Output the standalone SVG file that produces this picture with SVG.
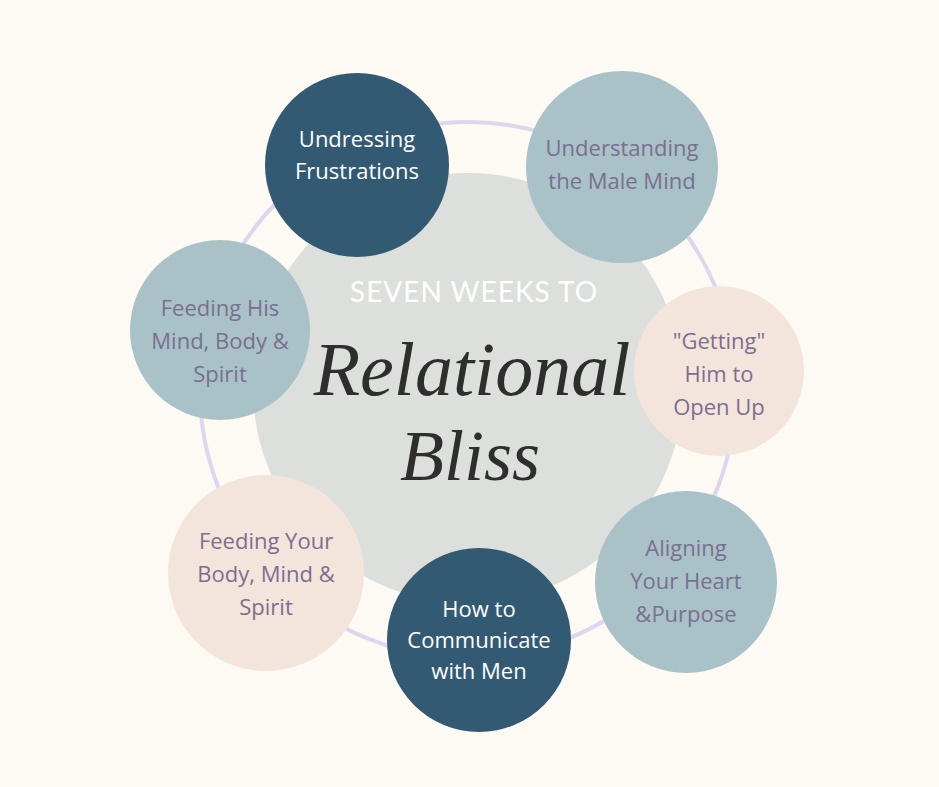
<svg xmlns="http://www.w3.org/2000/svg" width="939" height="787" viewBox="0 0 939 787">
<style>
.t{font-family:"Open Sans","Noto Sans",sans-serif;font-size:22px;text-anchor:middle}
.w{fill:#ffffff}.p{fill:#7b6f90}
.dark{fill:#325a72}.light{fill:#a8c2c8}.beige{fill:#f3e5dc}
</style>
<rect width="939" height="787" fill="#fdf9f3"/>
<g id="connectors"><circle cx="468" cy="390" r="268" fill="none" stroke="#ddd6ef" stroke-width="4"/></g>
<g id="center">
<circle cx="468" cy="388" r="215" fill="#dcdfdb"/>
<text x="474" y="302" font-family="Lato,'Open Sans',sans-serif" font-size="28" fill="#ffffff" text-anchor="middle" letter-spacing="1">SEVEN WEEKS TO</text>
<text x="472" y="395" font-family="'Liberation Serif',serif" font-style="italic" font-size="76" fill="#2e2e2e" text-anchor="middle">Relational</text>
<text x="470" y="480" font-family="'Liberation Serif',serif" font-style="italic" font-size="72" fill="#2e2e2e" text-anchor="middle">Bliss</text>
</g>
<g id="n1"><circle cx="357" cy="165" r="92" class="dark"/><text class="t w" x="357" y="147">Undressing</text><text class="t w" x="357" y="179">Frustrations</text></g>
<g id="n2"><circle cx="622" cy="167" r="96" class="light"/><text class="t p" x="622" y="156">Understanding</text><text class="t p" x="622" y="189">the Male Mind</text></g>
<g id="n3"><circle cx="719" cy="371" r="85" class="beige"/><text class="t p" x="719" y="349">"Getting"</text><text class="t p" x="719" y="382">Him to</text><text class="t p" x="719" y="415">Open Up</text></g>
<g id="n4"><circle cx="686" cy="582" r="91" class="light"/><text class="t p" x="686" y="556">Aligning</text><text class="t p" x="686" y="589">Your Heart</text><text class="t p" x="686" y="622">&amp;Purpose</text></g>
<g id="n5"><circle cx="479" cy="640" r="92" class="dark"/><text class="t w" x="479" y="617">How to</text><text class="t w" x="479" y="648">Communicate</text><text class="t w" x="479" y="679">with Men</text></g>
<g id="n6"><circle cx="266" cy="573" r="98" class="beige"/><text class="t p" x="266" y="549">Feeding Your</text><text class="t p" x="266" y="582">Body, Mind &amp;</text><text class="t p" x="266" y="615">Spirit</text></g>
<g id="n7"><circle cx="220" cy="330" r="90" class="light"/><text class="t p" x="220" y="316">Feeding His</text><text class="t p" x="220" y="349">Mind, Body &amp;</text><text class="t p" x="220" y="382">Spirit</text></g>
</svg>
